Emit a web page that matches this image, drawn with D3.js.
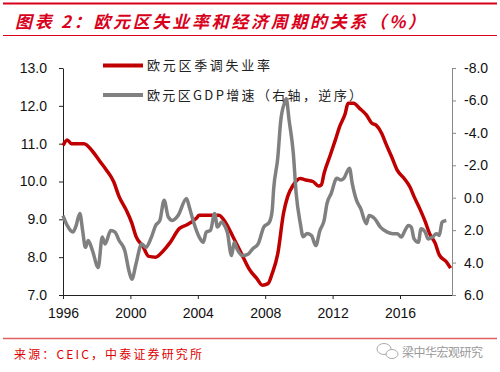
<!DOCTYPE html>
<html>
<head>
<meta charset="utf-8">
<script src="https://cdn.jsdelivr.net/npm/d3@7"></script>
<style>
  body { margin: 0; background: #fff; }
  svg { display: block; }
</style>
</head>
<body>
<script>
// euro area unemployment rate (sa), left axis
const unempDates = ["1996-01","1996-04","1996-07","1997-04","1997-10","1998-03","1998-08","1999-01","1999-05","1999-10","2000-02","2000-05","2000-10","2001-02","2001-07","2001-12","2002-05","2002-12","2003-05","2003-12","2004-02","2005-04","2005-09","2006-02","2006-08","2007-02","2007-07","2007-11","2008-03","2008-06","2008-10","2009-02","2009-05","2009-09","2010-02","2010-06","2010-11","2011-03","2011-05","2011-07","2011-11","2012-03","2012-06","2012-10","2012-12","2013-04","2013-08","2014-01","2014-05","2014-08","2014-12","2015-03","2015-07","2015-11","2016-04","2016-08","2016-11","2017-03","2017-07","2017-10","2018-02","2018-05","2018-10","2019-01"];
const unempValues = [10.95,11.1,11.0,11.0,10.8,10.55,10.3,10.0,9.6,9.25,8.9,8.55,8.28,8.02,8.0,8.15,8.37,8.76,8.85,9.03,9.11,9.11,8.9,8.54,8.1,7.66,7.44,7.26,7.3,7.57,8.1,9.16,9.6,9.91,10.08,10.04,10.0,9.88,9.91,10.22,10.66,11.1,11.45,11.8,12.07,12.07,11.94,11.76,11.54,11.49,11.27,11.0,10.66,10.3,10.08,9.86,9.6,9.29,8.94,8.63,8.37,8.06,7.88,7.71];

// euro area GDP growth, right axis (reversed)
const gdpDates = ["1996-01","1996-04","1996-08","1996-10","1997-01","1997-03","1997-05","1997-07","1997-10","1998-02","1998-05","1998-07","1998-11","1999-02","1999-05","1999-09","1999-12","2000-02","2000-05","2000-09","2000-12","2001-04","2001-07","2001-10","2002-01","2002-04","2002-07","2002-11","2003-05","2003-07","2003-10","2004-02","2004-05","2004-07","2004-10","2005-01","2005-03","2005-06","2005-08","2005-10","2006-01","2006-03","2006-05","2006-09","2007-01","2007-04","2007-08","2007-12","2008-04","2008-06","2008-07","2008-10","2008-12","2009-03","2009-04","2009-06","2009-09","2009-11","2010-02","2010-04","2010-07","2010-10","2011-01","2011-04","2011-07","2011-09","2011-12","2012-04","2012-07","2012-09","2013-01","2013-03","2013-06","2013-09","2014-01","2014-03","2014-07","2014-11","2015-04","2015-08","2015-11","2016-02","2016-04","2016-07","2016-09","2016-11","2017-02","2017-04","2017-07","2017-09","2017-12","2018-03","2018-05","2018-07","2018-10"];
const gdpValues = [1.1,1.71,2.12,1.81,0.98,2.02,3.06,2.64,3.26,4.3,2.43,2.85,2.02,2.12,2.64,3.26,4.51,5.03,4.09,2.85,3.06,2.43,1.71,1.4,0.15,1.19,1.4,1.09,0.05,0.57,1.5,2.43,2.75,2.12,2.02,0.98,1.81,1.5,1.71,2.12,3.57,2.75,3.16,3.57,3.47,3.16,2.85,1.81,1.5,0.77,-0.5,-2.5,-4.7,-5.9,-6.1,-4.8,-2.75,-0.3,1.6,2.4,2.2,2.33,2.95,2.02,1.4,0.36,-0.26,-1.2,-1.09,-1.2,-1.82,-0.89,0.15,0.67,1.6,1.09,1.29,1.81,2.12,2.22,2.22,2.43,2.12,1.71,1.81,2.54,2.75,1.91,2.12,2.54,2.43,2.22,2.33,1.5,1.4];

const xTickYears = [1996, 2000, 2004, 2008, 2012, 2016];
const leftTicks = [7, 8, 9, 10, 11, 12, 13];
const rightTicks = [-8, -6, -4, -2, 0, 2, 4, 6];
const seriesNames = ["欧元区季调失业率", "欧元区GDP增速（右轴，逆序）"];

const W = 500, H = 372;
const margin = { left: 63, right: 452, top: 68, bottom: 295 };
const red = "#C00000", gray = "#808080", titleRed = "#D9001B";
const tickFont = "'Liberation Sans', Arial, sans-serif";
const cjkFont = "'Noto Sans CJK SC', sans-serif";

var parseTime = d3.timeParse("%Y-%m");
const unemp = unempDates.map((d, i) => ({ date: parseTime(d), value: unempValues[i] }));
const gdp = gdpDates.map((d, i) => ({ date: parseTime(d), value: gdpValues[i] }));

const svg = d3.select("body").append("svg")
  .attr("width", W).attr("height", H);

// title block
svg.append("line").attr("x1", 3).attr("x2", 497).attr("y1", 3.5).attr("y2", 3.5)
  .attr("stroke", titleRed).attr("stroke-width", 2);
svg.append("text").attr("x", 15).attr("y", 28)
  .attr("font-family", cjkFont).attr("font-size", 17).attr("font-weight", "bold")
  .attr("font-style", "italic").attr("fill", titleRed)
  .attr("textLength", 410).attr("lengthAdjust", "spacing")
  .text("图表 2：欧元区失业率和经济周期的关系（%）");
svg.append("line").attr("x1", 3).attr("x2", 497).attr("y1", 35.5).attr("y2", 35.5)
  .attr("stroke", titleRed).attr("stroke-width", 1);

// scales
var x = d3.scaleTime().domain([new Date(1996, 0, 1), new Date(2019, 1, 1)]).range([margin.left, margin.right]);
var yL = d3.scaleLinear().domain([7, 13]).range([margin.bottom, margin.top]);
var yR = d3.scaleLinear().domain([6, -8]).range([margin.bottom, margin.top]);

const styleAxis = (g) => {
  g.selectAll("text").attr("font-family", tickFont).attr("font-size", 14).attr("fill", "#111");
};

svg.append("g")
  .attr("transform", `translate(0, ${margin.bottom})`)
  .call(d3.axisBottom(x).tickValues(xTickYears.map(y => new Date(y, 0, 1)))
    .tickFormat(d3.timeFormat("%Y")).tickSize(4).tickSizeOuter(0).tickPadding(9))
  .call(styleAxis)
  .call(g => g.selectAll("line, path").attr("stroke", "#222"));

svg.append("g")
  .attr("transform", `translate(${margin.left}, 0)`)
  .call(d3.axisLeft(yL).tickValues(leftTicks).tickFormat(d => d.toFixed(1))
    .tickSize(4).tickSizeOuter(0).tickPadding(12))
  .call(styleAxis)
  .call(g => g.selectAll("line, path").attr("stroke", "#222"));

svg.append("g")
  .attr("transform", `translate(${margin.right}, 0)`)
  .call(d3.axisRight(yR).tickValues(rightTicks).tickFormat(d => d.toFixed(1))
    .tickSize(4).tickSizeOuter(0).tickPadding(8))
  .call(styleAxis)
  .call(g => g.selectAll("line, path").attr("stroke", "#888"));

// lines
var unempLine = d3.line().curve(d3.curveMonotoneX)
  .x(d => x(d.date)).y(d => yL(d.value));
var gdpLine = d3.line().curve(d3.curveMonotoneX)
  .x(d => x(d.date)).y(d => yR(d.value));

svg.append("path").datum(unemp)
  .attr("fill", "none").attr("stroke", red).attr("stroke-width", 3.5)
  .attr("stroke-linejoin", "round").attr("d", unempLine);
svg.append("path").datum(gdp)
  .attr("fill", "none").attr("stroke", gray).attr("stroke-width", 3.5)
  .attr("stroke-linejoin", "round").attr("d", gdpLine);

// legend
const legend = [
  { name: seriesNames[0], color: red, y: 65.5, len: 123 },
  { name: seriesNames[1], color: gray, y: 95, len: 215 }
];
legend.forEach(l => {
  svg.append("line").attr("x1", 103).attr("x2", 143).attr("y1", l.y).attr("y2", l.y)
    .attr("stroke", l.color).attr("stroke-width", 4);
  svg.append("text").attr("x", 147).attr("y", l.y + 4.5)
    .attr("font-family", cjkFont).attr("font-size", 13).attr("fill", "#222")
    .attr("textLength", l.len).attr("lengthAdjust", "spacing")
    .text(l.name);
});

// footer
svg.append("line").attr("x1", 3).attr("x2", 497).attr("y1", 338.5).attr("y2", 338.5)
  .attr("stroke", "#E06060").attr("stroke-width", 1.5);
svg.append("text").attr("x", 14).attr("y", 359)
  .attr("font-family", cjkFont).attr("font-size", 12).attr("fill", "#E00000")
  .attr("textLength", 188).attr("lengthAdjust", "spacing")
  .text("来源：CEIC，中泰证券研究所");

// watermark
svg.append("ellipse").attr("cx", 384).attr("cy", 349).attr("rx", 7).attr("ry", 5.5)
  .attr("fill", "#fff").attr("stroke", "#aaa").attr("stroke-width", 1);
svg.append("ellipse").attr("cx", 392).attr("cy", 354).attr("rx", 6).attr("ry", 4.5)
  .attr("fill", "#fff").attr("stroke", "#aaa").attr("stroke-width", 1);
svg.append("text").attr("x", 402).attr("y", 357)
  .attr("font-family", cjkFont).attr("font-size", 12).attr("fill", "#999")
  .attr("textLength", 81).attr("lengthAdjust", "spacing")
  .text("梁中华宏观研究");
</script>
</body>
</html>
